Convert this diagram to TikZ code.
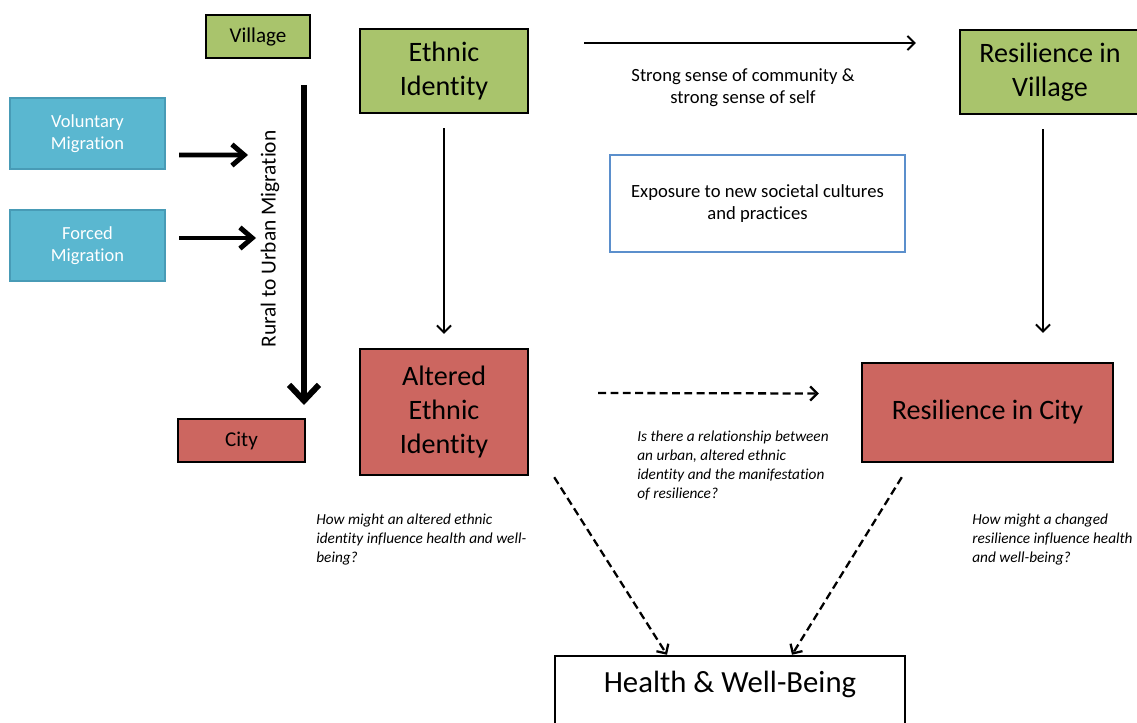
\documentclass[tikz,border=0pt]{standalone}
\usepackage{fontspec}
\setmainfont{Carlito}[Ligatures={NoCommon}, RawFeature={-clig;-calt}]
\definecolor{vgreen}{RGB}{169,196,108}
\definecolor{cred}{RGB}{204,102,96}
\definecolor{mblue}{RGB}{90,183,208}
\definecolor{mbluedark}{RGB}{72,155,182}
\definecolor{expblue}{RGB}{91,143,204}
\usetikzlibrary{arrows.meta,calc}

\begin{document}
\begin{tikzpicture}[x=0.02cm, y=-0.02cm,
    placebox/.style={rectangle, draw=black, line width=1.4pt, align=center, inner sep=2pt,
      font=\fontsize{12}{14}\selectfont},
    bigbox/.style={rectangle, draw=black, line width=1.4pt, align=center, inner sep=2pt,
      font=\fontsize{16}{19.3}\selectfont},
    migbox/.style={rectangle, fill=mblue, draw=mbluedark, line width=1.4pt, text=white, align=center,
      minimum width=3.1cm, minimum height=1.42cm, font=\fontsize{10.5}{12.5}\selectfont},
    note/.style={align=left, anchor=north west, inner sep=0pt, font=\fontsize{8.7}{10.8}\selectfont\itshape},
    pusharrow/.style={-{Straight Barb[length=7pt,width=12pt]}, line width=2.8pt},
    migarrow/.style={-{Straight Barb[length=9pt,width=17pt]}, line width=3.4pt},
    thinarrow/.style={-{Straight Barb[length=4pt,width=8pt]}, line width=1.1pt},
    dasharrow/.style={-{Straight Barb[length=4pt,width=8pt]}, line width=1.3pt, dash pattern=on 4.5pt off 2.5pt}
  ]
    \useasboundingbox (0,0) rectangle (1137,723);

    % left column: place and migration
    \node[placebox, fill=vgreen, minimum width=2.08cm, minimum height=0.86cm] (village) at (258,36.5) {Village};
    \node[placebox, fill=cred, minimum width=2.54cm, minimum height=0.86cm] (city) at (241.5,440.5) {City};
    \node[migbox] (voluntary) at (87.5,133.5) {Voluntary\\Migration};
    \node[migbox] (forced) at (87.5,245.5) {Forced\\Migration};
    \node[rotate=90, font=\fontsize{12.2}{14}\selectfont] (rural) at (270,239) {Rural to Urban Migration};

    \coordinate (migtop) at (304,85);
    \coordinate (migend) at (304,405);
    \coordinate (volhit) at (248,155);
    \coordinate (forhit) at (256,238);
    \draw[migarrow] (migtop) -- (migend);
    \draw[pusharrow] ([shift={(13,21.5)}]voluntary.east) -- (volhit);
    \draw[pusharrow] ([shift={(13,-7.5)}]forced.east) -- (forhit);

    % identity and resilience
    \node[bigbox, fill=vgreen, minimum width=3.36cm, minimum height=1.68cm] (ethnic) at (444,71) {Ethnic\\Identity};
    \node[bigbox, fill=cred, minimum width=3.36cm, minimum height=2.52cm] (altered) at (444,412) {Altered\\Ethnic\\Identity};
    \node[bigbox, fill=vgreen, minimum width=3.6cm, minimum height=1.68cm] (resvillage) at (1050,72) {Resilience in\\Village};
    \node[bigbox, fill=cred, minimum width=5.02cm, minimum height=1.98cm] (rescity) at (987.5,412.5) {Resilience in City};
    \node[rectangle, draw=expblue, line width=1.4pt, fill=white, minimum width=5.9cm, minimum height=1.94cm,
      align=center, font=\fontsize{10.6}{12.5}\selectfont] (exposure) at (757.5,203.5) {Exposure to new societal cultures\\and practices};
    \node[bigbox, fill=white, font=\fontsize{17.5}{21}\selectfont, minimum width=7cm, minimum height=1.4cm,
      text depth=0.35cm] (health) at (730,691) {Health \& Well-Being};

    \node[align=center, font=\fontsize{10.6}{12.5}\selectfont] (strong) at (743,88) {Strong sense of community \&\\strong sense of self};
    \node[note] (qrel) at (637,431) {Is there a relationship between\\an urban, altered ethnic\\identity and the manifestation\\of resilience?};
    \node[note] (qaltered) at (316,514) {How might an altered ethnic\\identity influence health and well-\\being?};
    \node[note] (qres) at (972,514) {How might a changed\\resilience influence health\\and well-being?};

    \draw[thinarrow, shorten <=0.28cm, shorten >=0.28cm] (ethnic) -- (altered);
    \draw[thinarrow] ($(ethnic.east)+(55,-28)$) -- ($(resvillage.west)+(-43,-29)$);
    \coordinate (rvs) at ($(resvillage.south)+(-7,14)$);
    \draw[thinarrow, shorten >=0.58cm] (rvs) -- (rvs |- rescity.north);
    \draw[dasharrow] ($(altered.east)+(69,-19)$) -- ($(rescity.west)+(-42,-19)$);
    \draw[dasharrow] ($(altered.south east)+(25,1)$) -- ($(health.north)+(-63,0)$);
    \draw[dasharrow] ($(rescity.south west)+(41,14)$) -- ($(health.north)+(62,0)$);
  \end{tikzpicture}
\end{document}
